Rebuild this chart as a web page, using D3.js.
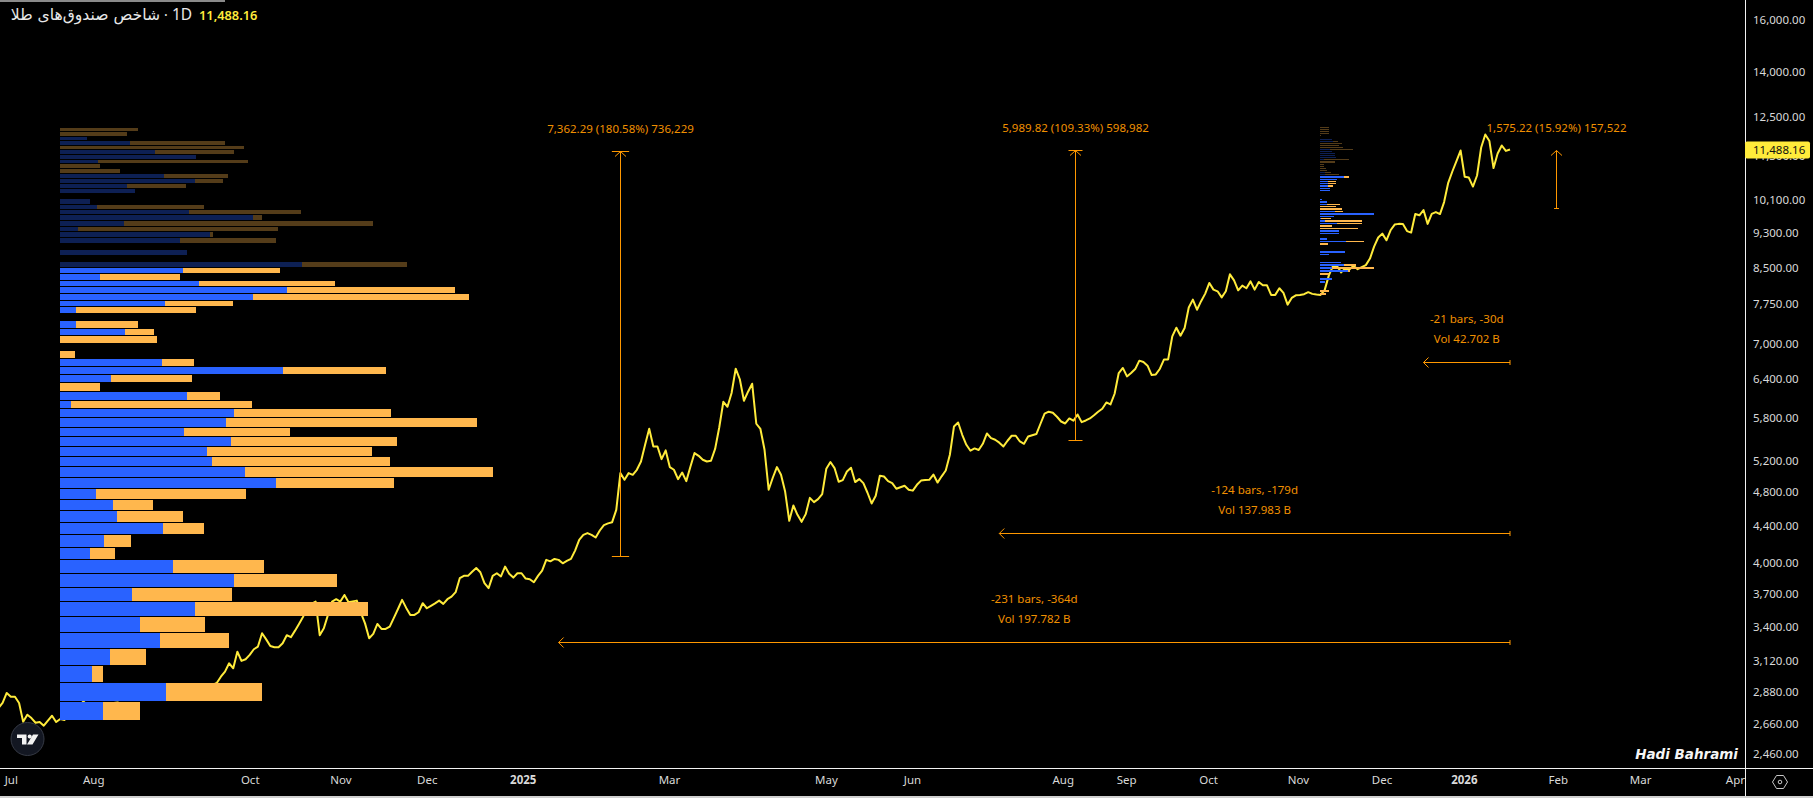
<!DOCTYPE html>
<html>
<head>
<meta charset="utf-8">
<script src="https://cdn.jsdelivr.net/npm/d3@7"></script>
<style>
    html, body { margin: 0; padding: 0; background: #000; overflow: hidden; }
    text { font-family: "Noto Sans", sans-serif; }
</style>
</head>
<body>
<div id="chart"></div>
<script>
// closing index value, one per daily bar
const barCloses = [
    2766, 2802, 2874, 2847, 2847, 2802, 2670, 2719, 2696, 2664,
    2669, 2644, 2679, 2712, 2669, 2690, 2683, 2710, 2738, 2766,
    2795, 2823, 2845, 2860, 2838, 2852, 2867, 2845, 2823, 2820,
    2845, 2860, 2845, 2830, 2823, 2830, 2823, 2845, 2852, 2860,
    2874, 2867, 2874, 2882, 2882, 2889, 2896, 2896, 2904, 2912,
    2919, 2926, 2933, 2948, 2996, 3035, 3100, 3061, 3193, 3119,
    3132, 3167, 3213, 3235, 3347, 3295, 3240, 3230, 3230, 3263,
    3330, 3313, 3369, 3429, 3493, 3580, 3607, 3628, 3330, 3389,
    3507, 3628, 3650, 3628, 3690, 3622, 3630, 3637, 3525, 3432,
    3304, 3341, 3427, 3384, 3384, 3404, 3480, 3560, 3644, 3570,
    3507, 3507, 3531, 3613, 3567, 3589, 3612, 3637, 3607, 3650,
    3674, 3716, 3851, 3874, 3874, 3914, 3952, 3910, 3802, 3755,
    3874, 3900, 3868, 3967, 3894, 3857, 3900, 3900, 3847, 3841,
    3812, 3874, 3927, 4035, 4020, 4045, 4035, 4000, 4025, 4045,
    4132, 4247, 4301, 4320, 4301, 4272, 4349, 4409, 4429, 4442,
    4584, 5034, 4949, 5034, 5012, 5077, 5185, 5411, 5636, 5388,
    5388, 5217, 5334, 5112, 5077, 4957, 5042, 4932, 5116, 5298,
    5261, 5208, 5185, 5195, 5354, 5655, 6038, 5962, 6174, 6569,
    6395, 6054, 6195, 6322, 5709, 5634, 5342, 4825, 4975, 5112,
    5012, 4803, 4458, 4635, 4526, 4446, 4534, 4726, 4675, 4711,
    4771, 5090, 5178, 5099, 4924, 4945, 5054, 5103, 4920, 4958,
    4907, 4788, 4659, 4751, 5000, 4991, 4932, 4907, 4837, 4856,
    4874, 4826, 4814, 4886, 4939, 4945, 4949, 5016, 4914, 4993,
    5068, 5275, 5670, 5728, 5551, 5411, 5330, 5361, 5339, 5425,
    5569, 5504, 5481, 5440, 5388, 5467, 5537, 5537, 5457, 5425,
    5527, 5544, 5561, 5709, 5857, 5887, 5872, 5812, 5742, 5713,
    5787, 5753, 5846, 5733, 5757, 5787, 5834, 5887, 5932, 6028,
    5997, 6163, 6497, 6582, 6441, 6497, 6563, 6705, 6682, 6620,
    6464, 6474, 6569, 6727, 6727, 7133, 7293, 7146, 7287, 7677,
    7834, 7635, 7803, 7955, 8175, 8036, 8002, 7880, 8002, 8356,
    8228, 8022, 8119, 8064, 8207, 8036, 8195, 8125, 8125, 7929,
    7929, 8064, 7969, 7735, 7868, 7920, 7929, 7944, 7985, 7950,
    7935, 7929, 8026, 8328, 8531, 8535, 8398, 8477, 8456, 8543,
    8467, 8510, 8554, 8698, 8968, 9179, 9270, 9113, 9349, 9486,
    9503, 9498, 9330, 9294, 9743, 9713, 9845, 9503, 9748, 9792,
    9743, 10046, 10551, 10860, 11153, 11457, 10716, 10694, 10451, 10750,
    11545, 11934, 11737, 10956, 11369, 11604, 11445, 11488.16
];

// volume profile on the left, rows counted from the lowest price up
const profile1Low = 2683;
const profile1Step = 135.6;
const profile1DimFrom = 43;
const profile1Up = [
    21.5, 53, 16, 25, 50, 40, 67.5, 36, 87, 56.5,
    15, 22, 51.5, 28.5, 26.5, 18, 108, 92.5, 76, 73.5,
    85.5, 62, 83, 87, 5.5, 63.5, 0, 25.5, 111.5, 51,
    0, 0, 0, 32.5, 8, 0, 8, 52.5, 96.5, 113.5,
    69.5, 20, 61.5, 121, 0, 63.5, 0, 60, 75, 9,
    32, 96.5, 64.5, 18.5, 15, 0, 37.5, 33.5, 67.5, 52,
    0, 0, 19, 68, 47.5, 0, 35, 13.5, 0, 0
];
const profile1Down = [
    18.5, 48, 5.5, 18, 34.5, 32.5, 86.5, 50, 51.5, 45.5,
    12.5, 13.5, 20.5, 33, 20, 75, 59, 124, 89, 82.5,
    83, 53, 125.5, 78.5, 90.5, 16.5, 20, 40.5, 51.5, 16,
    7.5, 0, 48.5, 14.5, 31, 0, 60, 34, 108, 84,
    68, 40, 48.5, 52.5, 0, 0, 0, 48, 1.5, 100,
    124.5, 4.5, 56, 53.5, 0, 0, 0, 29.5, 14, 32,
    30, 20, 75, 0, 39.5, 92, 47.5, 0, 33.5, 39
];

// volume profile over the last stretch of the line
const profile2Low = 7931;
const profile2Step = 60;
const profile2DimFrom = 47;
const profile2Up = [
    0, 0, 0, 0, 2.5, 6, 0, 0, 14, 6,
    12, 10.5, 0, 0, 4.5, 12.5, 0, 0, 0, 13,
    3.5, 0, 9.5, 9.5, 0, 0, 8.5, 2.5, 0.5, 7,
    27, 7.5, 0, 0, 3.5, 3.5, 1, 0, 0, 0,
    5, 5, 4, 4, 4, 8.5, 12, 2.5, 2.5, 0,
    0, 0, 0, 0, 2, 8, 7.5, 7.5, 6, 5,
    0, 0, 0, 6.5, 6, 0, 0, 0, 0, 0, 0
];
const profile2Down = [
    3, 4.5, 0, 0, 0, 0, 0, 4.5, 1, 21,
    6, 0, 0, 0, 0, 0, 0, 0, 4, 9,
    0, 0, 0, 0, 19, 6, 12.5, 18.5, 5, 0,
    0, 4, 11, 8, 6.5, 0, 0, 0, 0, 0,
    0, 0, 2.5, 4, 4, 0, 2.5, 7, 3, 3.5,
    3, 2, 2, 7.5, 12.5, 0, 0, 0, 0, 11.5,
    11.5, 9.5, 11, 2.5, 0, 0, 0.5, 4.5, 4.5, 4.5, 4.5
];

// price rulers
const priceRulerBars = [151, 261.5, 378.2];
const priceRulerFrom = [4077, 5478.7, 9894.5];
const priceRulerTo = [11439.5, 11468.5, 11469.7];
const priceRulerSpan = [2.1, 1.7, 0.6];
const priceRulerLabels = [
    "7,362.29 (180.58%) 736,229",
    "5,989.82 (109.33%) 598,982",
    "1,575.22 (15.92%) 157,522"
];

// date rulers, all of them ending on the last bar
const dateRulerBars = [231, 124, 21];
const dateRulerPrice = [3273, 4321, 6682];
const dateRulerLabels = ["-231 bars, -364d", "-124 bars, -179d", "-21 bars, -30d"];
const dateRulerVolumes = ["Vol 197.782 B", "Vol 137.983 B", "Vol 42.702 B"];

const priceTicks = [16000, 14000, 12500, 11300, 10100, 9300, 8500, 7750, 7000, 6400, 5800,
    5200, 4800, 4400, 4000, 3700, 3400, 3120, 2880, 2660, 2460];
const timeTickBars = [3, 23, 61, 83, 104, 127.3, 162.8, 200.9, 221.8, 258.4, 273.8, 293.7,
    315.5, 335.8, 355.8, 378.6, 398.6, 421.6];
const timeTickLabels = ["Jul", "Aug", "Oct", "Nov", "Dec", "2025", "Mar", "May", "Jun", "Aug",
    "Sep", "Oct", "Nov", "Dec", "2026", "Feb", "Mar", "Apr"];

const lastPrice = 11488.16;
const lastBar = barCloses.length - 1;

const width = 1813;
const height = 798;
const paneRight = 1745;
const paneBottom = 768;

const ORANGE = "#FF9800";
const TEXT_ORANGE = "#F09000";
const YELLOW = "#FFEB3B";
const VP_UP = "#2962FF";
const VP_DOWN = "#FFB74D";

const svg = d3.select("#chart").append("svg")
    .attr("width", width)
    .attr("height", height)
    .style("display", "block")
    .style("background", "#000");

const x = d3.scaleLinear().domain([0, lastBar]).range([-1.52, 1510]);
const y = d3.scaleLog().domain([2460, 16000]).range([754, 19.5]);
const vol = d3.scaleLinear().domain([0, 216.5]).range([0, 433]);

svg.append("defs").append("clipPath").attr("id", "pane")
    .append("rect").attr("width", paneRight).attr("height", paneBottom);
svg.append("defs").append("clipPath").attr("id", "timeAxis")
    .append("rect").attr("y", paneBottom).attr("width", paneRight).attr("height", height - paneBottom);

const pane = svg.append("g").attr("clip-path", "url(#pane)");

// --------------- LINE ---------------------

const line = d3.line()
    .x((d, i) => x(i))
    .y(d => y(d));

pane.append("path")
    .datum(barCloses)
    .attr("fill", "none")
    .attr("stroke", YELLOW)
    .attr("stroke-width", 2)
    .attr("stroke-linejoin", "round")
    .attr("d", line);

// --------------- VOLUME PROFILES ---------------------

function drawProfile(left, low, step, up, down, dimFrom) {
    const rows = up.map((u, k) => ({ k: k, up: u, down: down[k] }));
    const g = pane.append("g").attr("shape-rendering", "crispEdges");
    const top = d => Math.round(y(low + step * (d.k + 1))) + 1;
    const rowHeight = d => Math.max(Math.round(y(low + step * d.k)) - top(d), 1);

    const row = g.selectAll("g")
        .data(rows)
        .enter().append("g")
        .attr("opacity", d => d.k >= dimFrom ? 0.33 : 1);

    row.append("rect")
        .attr("x", left)
        .attr("y", top)
        .attr("width", d => vol(d.up))
        .attr("height", rowHeight)
        .attr("fill", VP_UP);

    row.append("rect")
        .attr("x", d => left + vol(d.up))
        .attr("y", top)
        .attr("width", d => vol(d.down))
        .attr("height", rowHeight)
        .attr("fill", VP_DOWN);
}

drawProfile(60, profile1Low, profile1Step, profile1Up, profile1Down, profile1DimFrom);
drawProfile(1320, profile2Low, profile2Step, profile2Up, profile2Down, profile2DimFrom);

// --------------- RULERS ---------------------

const rulers = pane.append("g")
    .attr("stroke", ORANGE)
    .attr("stroke-width", 1)
    .attr("fill", "none");

const labels = pane.append("g")
    .attr("fill", TEXT_ORANGE)
    .attr("font-size", "11.5px")
    .attr("text-anchor", "middle");

priceRulerBars.forEach((bar, i) => {
    const rx = Math.round(x(bar)) + 0.5;
    const yTop = Math.round(y(priceRulerTo[i])) + 0.5;
    const yBottom = Math.round(y(priceRulerFrom[i])) + 0.5;
    const half = x(priceRulerSpan[i]) - x(0);

    rulers.append("path").attr("d", `M${rx},${yBottom}V${yTop}`);
    rulers.append("path").attr("d", `M${rx - half},${yBottom}H${rx + half}`);
    if (half > 5) rulers.append("path").attr("d", `M${rx - half},${yTop}H${rx + half}`);
    rulers.append("path").attr("d", `M${rx - 5.5},${yTop + 5}L${rx},${yTop}L${rx + 5.5},${yTop + 5}`);

    labels.append("text")
        .attr("x", rx)
        .attr("y", yTop - 19)
        .text(priceRulerLabels[i]);
});

dateRulerBars.forEach((bars, i) => {
    const xLeft = x(lastBar - bars);
    const xRight = x(lastBar);
    const ry = Math.round(y(dateRulerPrice[i])) + 0.5;

    rulers.append("path").attr("d", `M${xRight},${ry}H${xLeft}`);
    rulers.append("path").attr("d", `M${xRight},${ry - 2.5}V${ry + 2.5}`);
    rulers.append("path").attr("d", `M${xLeft + 5},${ry - 5}L${xLeft},${ry}L${xLeft + 5},${ry + 5}`);

    const xMid = (xLeft + xRight) / 2;
    labels.append("text").attr("x", xMid).attr("y", ry - 40).text(dateRulerLabels[i]);
    labels.append("text").attr("x", xMid).attr("y", ry - 20).text(dateRulerVolumes[i]);
});

// --------------- AXES ---------------------

const yAxis = d3.axisRight(y)
    .tickValues(priceTicks)
    .tickSize(0)
    .tickPadding(8)
    .tickFormat(d3.format(",.2f"));

const yAxisG = svg.append("g")
    .attr("transform", `translate(${paneRight},0)`)
    .call(yAxis);

const xAxis = d3.axisBottom(x)
    .tickValues(timeTickBars)
    .tickSize(0)
    .tickPadding(0)
    .tickFormat((d, i) => timeTickLabels[i]);

const xAxisG = svg.append("g")
    .attr("clip-path", "url(#timeAxis)")
    .append("g")
    .attr("transform", `translate(0,${paneBottom + 8})`)
    .call(xAxis);

[yAxisG, xAxisG].forEach(g => {
    g.select(".domain").remove();
    g.selectAll("text")
        .attr("fill", "#D9D9D9")
        .attr("font-size", "11.5px")
        .style("font-family", '"Noto Sans", sans-serif');
});
xAxisG.selectAll("text")
    .attr("font-weight", (d, i) => timeTickLabels[i].length === 4 ? 700 : 400);

// frame of the panes
svg.append("rect").attr("x", paneRight).attr("width", 1).attr("height", height).attr("fill", "#F2F2F2");
svg.append("rect").attr("y", paneBottom).attr("width", width).attr("height", 1).attr("fill", "#F2F2F2");
svg.append("rect").attr("y", 796).attr("width", width).attr("height", 2).attr("fill", "#D0D0D0");
svg.append("rect").attr("width", 225).attr("height", 2).attr("fill", "#8A8A8A");

// last value tag
svg.append("rect")
    .attr("x", paneRight)
    .attr("y", y(lastPrice) - 8)
    .attr("width", 65)
    .attr("height", 17)
    .attr("rx", 2)
    .attr("fill", YELLOW);
svg.append("text")
    .attr("x", paneRight + 8)
    .attr("y", y(lastPrice) + 4.5)
    .attr("font-size", "11.5px")
    .attr("fill", "#111")
    .text(d3.format(",.2f")(lastPrice));

// --------------- TITLE, LOGO, SIGNATURE ---------------------

svg.append("text")
    .attr("x", 160)
    .attr("y", 20)
    .attr("direction", "rtl")
    .attr("font-size", "15.6px")
    .style("font-family", '"DejaVu Sans", sans-serif')
    .attr("fill", "#E8E8E8")
    .text("شاخص صندوق‌های طلا");
svg.append("text").attr("x", 164).attr("y", 20).attr("font-size", "14px").attr("fill", "#E8E8E8").text("·");
svg.append("text").attr("x", 172).attr("y", 20).attr("font-size", "15.5px").attr("fill", "#E8E8E8").text("1D");
svg.append("text")
    .attr("x", 199)
    .attr("y", 19.5)
    .attr("font-size", "12.8px")
    .attr("font-weight", 600)
    .attr("fill", YELLOW)
    .text(d3.format(",.2f")(lastPrice));

svg.append("text")
    .attr("x", 1738)
    .attr("y", 759)
    .attr("text-anchor", "end")
    .attr("font-size", "13.5px")
    .attr("font-weight", 700)
    .attr("font-style", "italic")
    .style("font-family", '"DejaVu Sans", sans-serif')
    .attr("fill", "#F5F5F5")
    .text("Hadi Bahrami");

const logo = svg.append("g").attr("transform", "translate(27.5,739)");
logo.append("circle").attr("r", 16.5).attr("fill", "#131722").attr("stroke", "#363A45").attr("stroke-width", 1);
logo.append("path").attr("fill", "#F2F2F2")
    .attr("d", "M-10.5,-4.5H-1V5.5H-5.5V-1H-10.5Z M5.5,-4.5H11L5,5.5H-0.5Z");
logo.append("circle").attr("cx", 2.2).attr("cy", -2.5).attr("r", 2).attr("fill", "#F2F2F2");

// settings hexagon under the price axis
const gear = svg.append("g")
    .attr("transform", "translate(1780,782)")
    .attr("fill", "none")
    .attr("stroke", "#C8C8C8");
gear.append("path").attr("d", "M-7.5,0L-3.5,-6.5H3.5L7.5,0L3.5,6.5H-3.5Z");
gear.append("circle").attr("r", 1.8);
</script>
</body>
</html>
